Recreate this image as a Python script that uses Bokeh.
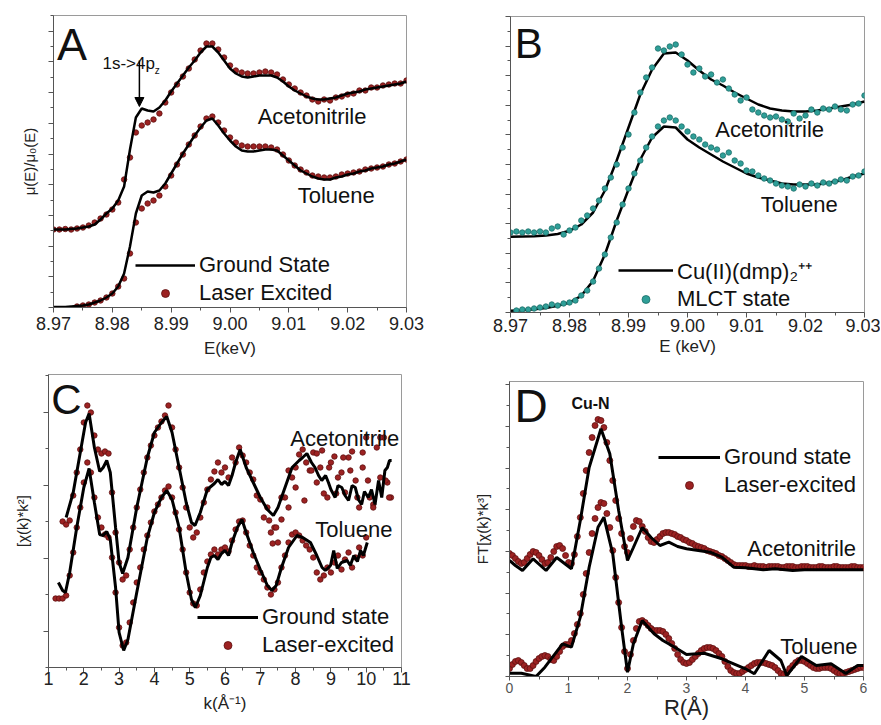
import numpy as np
from bokeh.plotting import figure
from bokeh.layouts import row, column
from bokeh.models import (FixedTicker, NumeralTickFormatter, CustomJSTickFormatter, Label,
                          Legend, LegendItem, Arrow, NormalHead, Range1d)
from bokeh.embed import file_html
from bokeh.resources import INLINE

FONT = "Liberation Sans"
RED = "#9c2222"
RED_EDGE = "#5e1010"
TEAL = "#2f9f98"
TEAL_EDGE = "#1d6e69"

# ---------------- Panel A data (arbitrary units) ----------------
energy = [round(8.970 + 0.001 * i, 3) for i in range(61)]
a_acn_ground = [78, 78, 78, 78.5, 79, 80, 81, 83, 88, 94, 99, 107, 121, 158, 190, 199, 197, 196, 200, 207,
                216, 224, 232, 240, 247, 255, 261, 261, 255, 247, 239, 234, 231, 230, 231, 232, 232, 232, 230, 226,
                221, 217, 214, 211, 209, 208, 208, 209, 210, 212, 214, 215, 216, 218, 219, 220, 221, 222, 223, 224, 226]
a_acn_excited = [78, 78, 78.5, 78, 79, 80, 82, 85, 89, 93, 98, 105, 128, 150, 175, 182, 185, 188, 194, 205,
                 215, 223, 231, 239, 248, 257, 264, 264, 258, 250, 242, 237, 235, 234, 234, 235, 236, 235, 233, 228,
                 223, 219, 215, 212, 208, 206, 208, 207, 210, 211, 213, 214, 217, 217, 220, 220, 222, 223, 224, 224, 227]
a_tol_ground = [0.5, 0.5, 0.5, 1, 1.5, 2, 3, 5, 7, 10, 14, 21, 34, 61, 94, 112, 116, 115, 117, 124,
                134, 144, 154, 163, 172, 180, 187, 189, 182, 174, 167, 161, 157, 156, 156, 157, 158, 158, 157, 152,
                147, 142, 137, 134, 131, 129, 128, 128, 130, 131, 133, 134, 136, 137, 139, 140, 141, 143, 144, 146, 148]
a_tol_excited_energy = energy[4:]
a_tol_excited = [1, 2, 3, 5, 7, 10, 14, 21, 29, 54, 85, 99, 104, 107, 112, 121,
                 132, 143, 153, 163, 172, 181, 189, 191, 185, 177, 170, 165, 162, 161, 161, 161, 161, 160, 158, 153,
                 147, 142, 138, 135, 132, 131, 130, 130, 131, 133, 134, 135, 136, 138, 139, 140, 141, 143, 144, 146, 148]

# ---------------- Panel B data ----------------
b_line_energy = energy[::2]
b_acn_ground = [75.7, 76, 76.3, 77, 78.5, 81.7, 88, 100, 122, 152, 185, 218, 243, 259, 260, 252, 242, 233, 227, 220,
                214, 208, 204, 202, 201, 201, 202, 204, 206, 208, 211]
b_tol_ground = [1.7, 2.3, 3.3, 4.5, 6.7, 10, 16.7, 31.7, 58, 92, 123, 153, 175, 186, 185, 173, 165, 158, 151, 145,
                139, 135, 132, 129, 128, 128, 128, 130, 132, 136, 139]
b_acn_excited = [80, 81, 80, 81, 80, 81, 80, 84, 86, 78, 82, 85, 92, 97, 104, 112, 124, 135, 148, 165,
                 178, 200, 220, 235, 245, 264, 262, 266, 268, 258, 248, 240, 244, 236, 238, 230, 233, 224, 218, 212,
                 215, 203, 200, 197, 195, 196, 193, 191, 199, 194, 197, 203, 200, 204, 203, 206, 203, 202, 208, 209, 217]
b_tol_excited_energy = energy[1:]
b_tol_excited = [2, 3, 3, 4, 5, 6, 8, 7, 9, 10, 12, 17, 22, 31, 44, 58, 75, 90, 108,
                 124, 139, 152, 165, 176, 186, 192, 195, 192, 186, 181, 176, 173, 168, 165, 163, 157, 160, 152, 149,
                 142, 141, 137, 134, 132, 129, 127, 126, 124, 128, 126, 129, 127, 130, 129, 131, 133, 132, 136, 137, 141]

# ---------------- Panel C data ----------------
c_acn_ground_k = [1.5, 1.7, 1.9, 2.05, 2.15, 2.3, 2.45, 2.55, 2.65, 2.75, 2.9, 3.0, 3.1, 3.25, 3.5, 3.8, 4.0, 4.2,
                  4.35, 4.5, 4.7, 4.9, 5.05, 5.15, 5.3, 5.5, 5.7, 5.8, 5.9, 6.0, 6.1, 6.2, 6.3, 6.43, 6.6, 6.8,
                  7.0, 7.2, 7.37, 7.5, 7.7, 7.9, 8.1, 8.2, 8.32, 8.45, 8.55, 8.65, 8.74, 8.85, 8.93, 9.0, 9.12,
                  9.2, 9.31, 9.4, 9.5, 9.6, 9.69, 9.78, 9.87, 9.95, 10.06, 10.15, 10.25, 10.35, 10.44, 10.53,
                  10.6, 10.66, 10.72]
c_acn_ground = [150, 175, 215, 245, 254, 220, 196, 200, 207, 195, 140, 105, 94, 110, 160, 210, 235, 245,
                251, 235, 200, 165, 145, 142, 155, 178, 184, 188, 183, 186, 182, 192, 205, 218, 200, 185,
                170, 158, 152, 160, 180, 200, 207, 210, 214, 205, 200, 192, 187, 192, 185, 178, 170,
                182, 180, 172, 167, 182, 180, 168, 163, 176, 170, 178, 163, 187, 170, 197,
                200, 207, 207]
c_tol_ground_k = [1.28, 1.4, 1.48, 1.6, 1.8, 2.0, 2.15, 2.3, 2.45, 2.55, 2.65, 2.75, 2.9, 3.0, 3.13, 3.25, 3.5,
                  3.8, 4.0, 4.2, 4.35, 4.5, 4.7, 4.9, 5.05, 5.16, 5.3, 5.5, 5.6, 5.7, 5.8, 5.9, 6.0, 6.1, 6.2,
                  6.35, 6.48, 6.6, 6.8, 7.0, 7.2, 7.33, 7.45, 7.6, 7.8, 8.04, 8.2, 8.42, 8.6, 8.75, 8.84, 8.99,
                  9.08, 9.18, 9.3, 9.46, 9.55, 9.65, 9.75, 9.84, 9.92, 10.03]
c_tol_ground = [85, 77, 75, 95, 140, 180, 199, 165, 133, 132, 136, 128, 80, 35, 17, 28, 75,
                130, 155, 170, 177, 168, 140, 95, 68, 60, 72, 100, 110, 112, 108, 114, 117, 112, 125,
                140, 148, 135, 115, 98, 82, 77, 82, 100, 120, 132, 130, 125, 112, 100, 97, 102,
                117, 99, 105, 107, 102, 112, 106, 117, 112, 125]
c_acn_excited_k = [round(1.4 + 0.1 * i, 1) for i in range(94)]
c_acn_excited = [146, 143, 147, 172, 195, 218, 245, 262, 255, 232, 218, 214, 216, 214, 175, 135, 105, 88, 92, 118,
                 140, 160, 178, 195, 210, 222, 232, 240, 246, 252, 262, 240, 218, 200, 180, 160, 140, 130, 135, 150,
                 165, 178, 188, 196, 205, 195, 200, 190, 210, 205, 220, 212, 205, 195, 188, 172, 168, 150, 160, 135,
                 140, 125, 148, 170, 160, 190, 200, 213, 218, 205, 197, 215, 185, 200, 174, 170, 205, 211, 190, 195,
                 175, 210, 216, 187, 160, 200, 230, 170, 163, 220, 190, 230, 185, 170]
c_acn_cloud_k = [7.25, 7.35, 7.45, 7.6, 7.8, 8.0, 8.25, 8.45, 8.6, 8.75, 8.95, 9.15, 9.35, 9.55, 9.75, 9.9,
                 10.05, 10.2, 10.4, 10.55, 10.65]
c_acn_cloud = [147, 124, 140, 170, 197, 180, 167, 197, 214, 217, 200, 174, 210, 197, 170, 215,
               187, 160, 230, 187, 170]
c_tol_excited_k = [round(1.2 + 0.1 * i, 1) for i in range(89)]
c_tol_excited = [69, 69, 69, 72, 92, 115, 140, 160, 185, 205, 195, 170, 150, 140, 133, 130, 110, 75, 40, 22,
                 25, 45, 65, 85, 100, 118, 132, 145, 156, 163, 170, 177, 181, 170, 155, 138, 118, 95, 75, 64,
                 62, 78, 95, 106, 113, 118, 113, 118, 120, 116, 127, 138, 146, 147, 135, 122, 112, 100, 95, 88,
                 80, 73, 78, 85, 100, 112, 125, 133, 135, 132, 127, 122, 118, 110, 95, 88, 92, 100, 95, 105,
                 112, 98, 108, 115, 100, 110, 120, 112, 130]

# ---------------- Panel D data ----------------
d_acn_ground_r = [0, 0.1, 0.22, 0.4, 0.62, 0.8, 1.05, 1.2, 1.35, 1.55, 1.7, 1.85, 2.0, 2.1, 2.25, 2.4, 2.55,
                  2.7, 2.85, 3.0, 3.2, 3.4, 3.6, 3.8, 4.0, 4.3, 4.5, 4.8, 5.0, 5.3, 5.6, 6.0]
d_acn_ground = [116, 111, 106, 117.7, 106, 119, 107.7, 156, 209, 247.7, 222.7, 166, 116, 129, 149, 139, 131,
                134.3, 130, 127.7, 126, 124.3, 119.3, 109.3, 108.7, 106.7, 107.7, 106, 106.7, 106.7, 106.7, 106.7]
d_tol_ground_r = [0, 0.2, 0.45, 0.6, 0.9, 1.05, 1.2, 1.35, 1.5, 1.6, 1.75, 1.9, 2.0, 2.1, 2.25, 2.45, 2.6,
                  2.8, 3.0, 3.3, 3.6, 3.8, 4.0, 4.15, 4.4, 4.6, 4.7, 4.95, 5.2, 5.45, 5.7, 5.9, 6.0]
d_tol_ground = [3.3, 3.3, 0, 9.3, 32.7, 29.3, 59.3, 109.3, 149.3, 159.3, 122.7, 49.3, 4.3, 32.7, 56, 42.7, 36,
                29.3, 22, 23.3, 17.7, 12.7, 7.7, 2.7, 26, 16, 1, 20, 11, 12.7, 3, 11, 11]
d_r = [round(0.05 * i, 2) for i in range(121)]
d_acn_excited = [123, 121, 118, 115, 113, 114, 118, 122, 125, 124, 121, 117, 113, 114, 119, 125, 130, 131, 128, 121,
                 114, 113, 122, 140, 159, 183, 206, 224, 239, 251, 257, 256, 249, 234, 216, 196, 176, 158, 143, 130,
                 124, 138, 150, 156, 155, 150, 145, 139, 135, 134, 137, 140, 143, 144, 144, 143, 142, 140, 139, 137,
                 136, 134, 133, 131, 130, 129, 128, 126, 125, 124, 123, 121, 120, 118, 116, 114, 112, 111, 111, 111,
                 111, 110, 110, 111, 110, 110, 110, 109, 110, 110, 110, 110, 109, 109, 110, 110, 110, 109, 109, 110,
                 110, 110, 109, 109, 109, 110, 110, 109, 109, 109, 110, 110, 109, 109, 109, 109, 110, 110, 109, 109, 109]
d_tol_excited = [8, 12, 15, 16, 14, 11, 8, 8, 11, 15, 18, 20, 21, 20, 17, 16, 20, 25, 30, 32,
                 32, 36, 43, 52, 63, 82, 103, 124, 143, 158, 169, 174, 173, 163, 149, 126, 99, 74, 49, 25,
                 8, 22, 36, 48, 55, 56, 54, 51, 48, 46, 46, 46, 45, 42, 38, 33, 28, 22, 17, 14,
                 13, 14, 17, 20, 23, 26, 28, 29, 29, 28, 26, 23, 20, 15, 10, 6, 4, 3, 3, 5,
                 7, 9, 11, 13, 14, 14, 14, 13, 12, 11, 9, 6, 3, 2, 4, 8, 11, 14, 16, 16,
                 15, 13, 11, 9, 8, 8, 9, 9, 9, 8, 6, 4, 3, 3, 4, 5, 6, 7, 8, 9, 9]

# tick positions
e_ticks = [8.97, 8.98, 8.99, 9.00, 9.01, 9.02, 9.03]
e_minor = [8.975, 8.985, 8.995, 9.005, 9.015, 9.025]
k_ticks = list(range(1, 12))
r_ticks = list(range(0, 7))


def make_fig(w, h, left, right, top, bottom, xr, yr, xt, xminor, yt, yminor, xfmt, tick_font, tick_color,
             tick_out, label_standoff, xlabel, xlabel_size, xlabel_standoff):
    p = figure(width=w, height=h, output_backend="svg", toolbar_location=None,
               x_range=Range1d(*xr), y_range=Range1d(*yr),
               min_border_left=left, min_border_right=right, min_border_top=top, min_border_bottom=bottom)
    p.grid.visible = False
    p.outline_line_color = "#9a9a9a"
    p.outline_line_width = 1
    p.background_fill_color = "white"
    p.border_fill_color = "white"
    p.xaxis.ticker = FixedTicker(ticks=xt, minor_ticks=xminor)
    p.yaxis.ticker = FixedTicker(ticks=yt, minor_ticks=yminor)
    p.xaxis.formatter = xfmt
    p.yaxis.formatter = CustomJSTickFormatter(code="return ''")
    for ax in (p.xaxis[0], p.yaxis[0]):
        ax.axis_line_color = "#555555"
        ax.major_tick_line_color = "#555555"
        ax.minor_tick_line_color = "#555555"
        ax.major_tick_out = tick_out
        ax.major_tick_in = 0
        ax.minor_tick_out = 3
        ax.minor_tick_in = 0
        ax.axis_label_text_font = FONT
        ax.axis_label_text_font_style = "normal"
        ax.axis_label_text_color = "#222222"
    p.xaxis.major_label_text_font = FONT
    p.xaxis.major_label_text_font_size = tick_font
    p.xaxis.major_label_text_color = tick_color
    p.xaxis.major_label_standoff = label_standoff
    p.xaxis.axis_label = xlabel
    p.xaxis.axis_label_text_font_size = xlabel_size
    p.xaxis.axis_label_standoff = xlabel_standoff
    p.yaxis.major_label_standoff = 0
    return p


def add_label(p, x, y, text, size, bold=False, color="#111111"):
    p.add_layout(Label(x=x, y=y, text=text, text_font=FONT, text_font_size=size,
                       text_font_style="bold" if bold else "normal", text_color=color,
                       text_baseline="middle", text_align="left"))


def add_legend(p, items, loc, gw, lh=28):
    lg = Legend(items=items, location=loc, background_fill_alpha=0, border_line_alpha=0,
                label_text_font=FONT, label_text_font_size="22px", label_text_color="#111111",
                glyph_width=gw, glyph_height=20, label_height=lh, spacing=0, padding=0, margin=0,
                label_standoff=4)
    p.add_layout(lg)


SZ = 5.5

# ---------------- Panel A ----------------
pA = make_fig(448, 362, 53, 42, 15, 55, (8.97, 9.03), (0, 292), e_ticks, e_minor,
              [30.7 * i for i in range(10)], [15.35 + 30.7 * i for i in range(10)],
              NumeralTickFormatter(format="0.00"), "18px", "#222222", 5, 4, "E(keV)", "17px", 6)
pA.yaxis.axis_label = "μ(E)/μ₀(E)"
pA.yaxis.axis_label_text_font_size = "15px"
pA.yaxis.axis_label_standoff = 11
ra1 = pA.scatter(energy, a_acn_excited, size=SZ, fill_color=RED, line_color=RED_EDGE, line_width=0.8)
pA.scatter(a_tol_excited_energy, a_tol_excited, size=SZ, fill_color=RED, line_color=RED_EDGE, line_width=0.8)
la1 = pA.line(energy, a_acn_ground, line_color="black", line_width=2.5)
pA.line(energy, a_tol_ground, line_color="black", line_width=2.5)
add_label(pA, 8.9706, 263, "A", "45px")
add_label(pA, 8.97833, 244, "1s->4p", "17px")
add_label(pA, 8.98720, 237, "z", "10px")
pA.add_layout(Arrow(end=NormalHead(size=9, fill_color="black", line_color="black"),
                    x_start=8.9846, y_start=247, x_end=8.9846, y_end=201, line_width=1.5, line_color="black"))
add_label(pA, 9.0047, 191.5, "Acetonitrile", "22px")
add_label(pA, 9.0115, 112, "Toluene", "22px")
add_legend(pA, [LegendItem(label="Ground State", renderers=[la1]),
                LegendItem(label="Laser Excited", renderers=[ra1])], (82, 0), 60)

# ---------------- Panel B ----------------
pB = make_fig(432, 362, 62, 16, 16, 50, (8.97, 9.03), (0, 296), e_ticks, e_minor,
              [29.6 * i for i in range(11)], [14.8 + 29.6 * i for i in range(10)],
              NumeralTickFormatter(format="0.00"), "18px", "#222222", 5, 1, "E (keV)", "17px", 2)
lb1 = pB.line(b_line_energy, b_acn_ground, line_color="black", line_width=2.5)
pB.line(b_line_energy, b_tol_ground, line_color="black", line_width=2.5)
rb1 = pB.scatter(energy, b_acn_excited, size=SZ, fill_color=TEAL, line_color=TEAL_EDGE, line_width=0.8)
pB.scatter(b_tol_excited_energy, b_tol_excited, size=SZ, fill_color=TEAL, line_color=TEAL_EDGE, line_width=0.8)
add_label(pB, 8.9707, 269, "B", "42px")
add_label(pB, 9.0047, 183, "Acetonitrile", "22px")
add_label(pB, 9.0124, 108, "Toluene", "22px")
add_legend(pB, [LegendItem(label="Cu(II)(dmp)₂⁺⁺", renderers=[lb1]),
                LegendItem(label="MLCT state", renderers=[rb1])], (108, 0), 55, 27)

# ---------------- Panel C ----------------
pC = make_fig(448, 362, 48, 47, 12, 57, (1, 11), (0, 293), k_ticks, [1.5 + i for i in range(10)],
              [36.5 + 73 * i for i in range(4)], [73 * i for i in range(5)],
              NumeralTickFormatter(format="0"), "18px", "#222222", 5, -1, "k(Å⁻¹)", "17px", 6)
pC.yaxis.axis_label = "[χ(k)*k²]"
pC.yaxis.axis_label_text_font_size = "15px"
pC.yaxis.axis_label_standoff = 13
rc1 = pC.scatter(c_acn_excited_k, c_acn_excited, size=SZ, fill_color=RED, line_color=RED_EDGE, line_width=0.8)
pC.scatter(c_acn_cloud_k, c_acn_cloud, size=SZ, fill_color=RED, line_color=RED_EDGE, line_width=0.8)
pC.scatter(c_tol_excited_k, c_tol_excited, size=SZ, fill_color=RED, line_color=RED_EDGE, line_width=0.8)
lc1 = pC.line(c_acn_ground_k, c_acn_ground, line_color="black", line_width=3)
pC.line(c_tol_ground_k, c_tol_ground, line_color="black", line_width=3)
add_label(pC, 1.08, 268.5, "C", "42px")
add_label(pC, 7.85, 229.5, "Acetonitrile", "22px")
add_label(pC, 8.56, 138.5, "Toluene", "22px")
add_legend(pC, [LegendItem(label="Ground state", renderers=[lc1]),
                LegendItem(label="Laser-excited", renderers=[rc1])], (149, 8), 61)

# ---------------- Panel D ----------------
pD = make_fig(432, 362, 61, 17, 19, 48, (0, 6), (0, 295), r_ticks, [0.5 + i for i in range(6)],
              [41.7 * i for i in range(8)], [20.85 + 41.7 * i for i in range(7)],
              NumeralTickFormatter(format="0"), "14px", "#555555", 4, 2, "R(Å)", "22px", -1)
pD.yaxis.axis_label = "FT[χ(k)*k³]"
pD.yaxis.axis_label_text_font_size = "15px"
pD.yaxis.axis_label_standoff = 15
rd1 = pD.scatter(d_r, d_acn_excited, size=6, fill_color=RED, line_color=RED_EDGE, line_width=0.8)
pD.scatter(d_r, d_tol_excited, size=6, fill_color=RED, line_color=RED_EDGE, line_width=0.8)
ld1 = pD.line(d_acn_ground_r, d_acn_ground, line_color="black", line_width=3)
pD.line(d_tol_ground_r, d_tol_ground, line_color="black", line_width=3)
add_label(pD, 0.085, 271, "D", "46px")
add_label(pD, 1.05, 273.5, "Cu-N", "16px", bold=True)
add_label(pD, 4.03, 128, "Acetonitrile", "22px")
add_label(pD, 4.59, 30, "Toluene", "22px")
add_legend(pD, [LegendItem(label="Ground state", renderers=[ld1]),
                LegendItem(label="Laser-excited", renderers=[rd1])], (149, 177), 62)

layout = column(row(column(pA), column(pB)), row(column(pC), column(pD)))
open("out.html", "w").write(file_html(layout, INLINE))
